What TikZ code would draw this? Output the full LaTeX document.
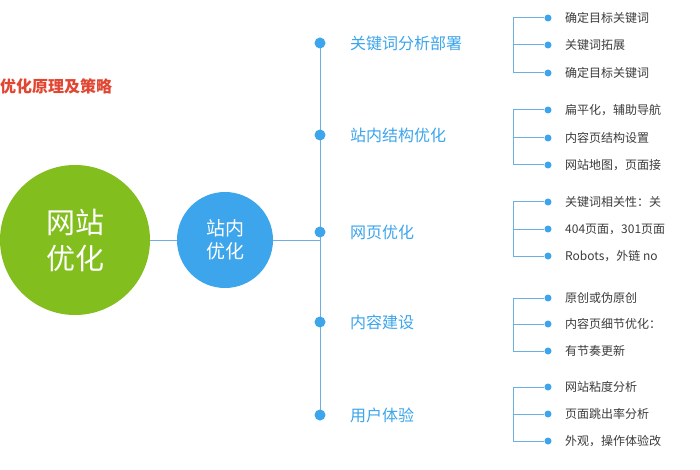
\documentclass[tikz,border=0pt]{standalone}
\usepackage{fontspec}
\setmainfont{Noto Sans CJK SC}
\definecolor{leafgreen}{RGB}{130,190,30}
\definecolor{skyblue}{RGB}{60,165,235}
\definecolor{lineblue}{RGB}{110,175,225}
\definecolor{titlered}{RGB}{225,70,50}
\definecolor{itemgray}{RGB}{60,60,60}
\tikzset{
  dot/.style={circle,fill=skyblue,inner sep=0pt,minimum size=11pt},
  smalldot/.style={circle,fill=skyblue,inner sep=0pt,minimum size=7pt},
  branch/.style={anchor=west,text=skyblue,font=\fontsize{16}{16}\selectfont,inner sep=0pt},
  item/.style={anchor=west,text=itemgray,font=\fontsize{12}{12}\selectfont,inner sep=0pt},
  link/.style={draw=lineblue,line width=1pt}
}
\begin{document}
\begin{tikzpicture}[x=1pt,y=-1pt]
\clip (0,0) rectangle (700,470);
\fill[white] (0,0) rectangle (700,470);

\node[anchor=west,text=titlered,font=\fontsize{16}{16}\selectfont\bfseries,inner sep=0pt] (title) at (0,86) {优化原理及策略};

\node[circle,fill=leafgreen,minimum size=150pt,inner sep=0pt,text=white,align=center,font=\fontsize{29}{36}\selectfont] (site) at (75,240) {网站\\优化};
\node[circle,fill=skyblue,minimum size=96pt,inner sep=0pt,text=white,align=center,font=\fontsize{19}{23}\selectfont] (inner) at (225,240) {站内\\优化};

\coordinate (top) at (320,43);
\coordinate (bot) at (320,415);
\coordinate (mid) at (320,240);
\draw[link] (site) -- (inner);
\draw[link] (inner) -- (mid);
\draw[link] (top) -- (bot);

\foreach \y/\name/\txt in {43/b1/关键词分析部署,135/b2/站内结构优化,232/b3/网页优化,322/b4/内容建设,415/b5/用户体验}{
  \node[dot] (\name dot) at (320,\y) {};
  \node[branch] (\name) at (350,\y) {\txt};
}

\foreach \g/\ya/\yb/\yc/\ta/\tb/\tc in {
  1/18/45/73/确定目标关键词/关键词拓展/确定目标关键词,
  2/110/138/165/扁平化，辅助导航/内容页结构设置/网站地图，页面接,
  3/202/229/256/关键词相关性：关/404页面，301页面/Robots，外链 no,
  4/298/324/351/原创或伪原创/内容页细节优化：/有节奏更新,
  5/387/414/441/网站粘度分析/页面跳出率分析/外观，操作体验改}{
  \node[smalldot] (d\g a) at (548,\ya) {};
  \node[smalldot] (d\g b) at (548,\yb) {};
  \node[smalldot] (d\g c) at (548,\yc) {};
  \draw[link] (d\g a) -| (513,\yc) -- (d\g c);
  \draw[link] (513,\yb) -- (d\g b);
  \node[item] (t\g a) at (565,\ya) {\ta};
  \node[item] (t\g b) at (565,\yb) {\tb};
  \node[item] (t\g c) at (565,\yc) {\tc};
}
\end{tikzpicture}
\end{document}
